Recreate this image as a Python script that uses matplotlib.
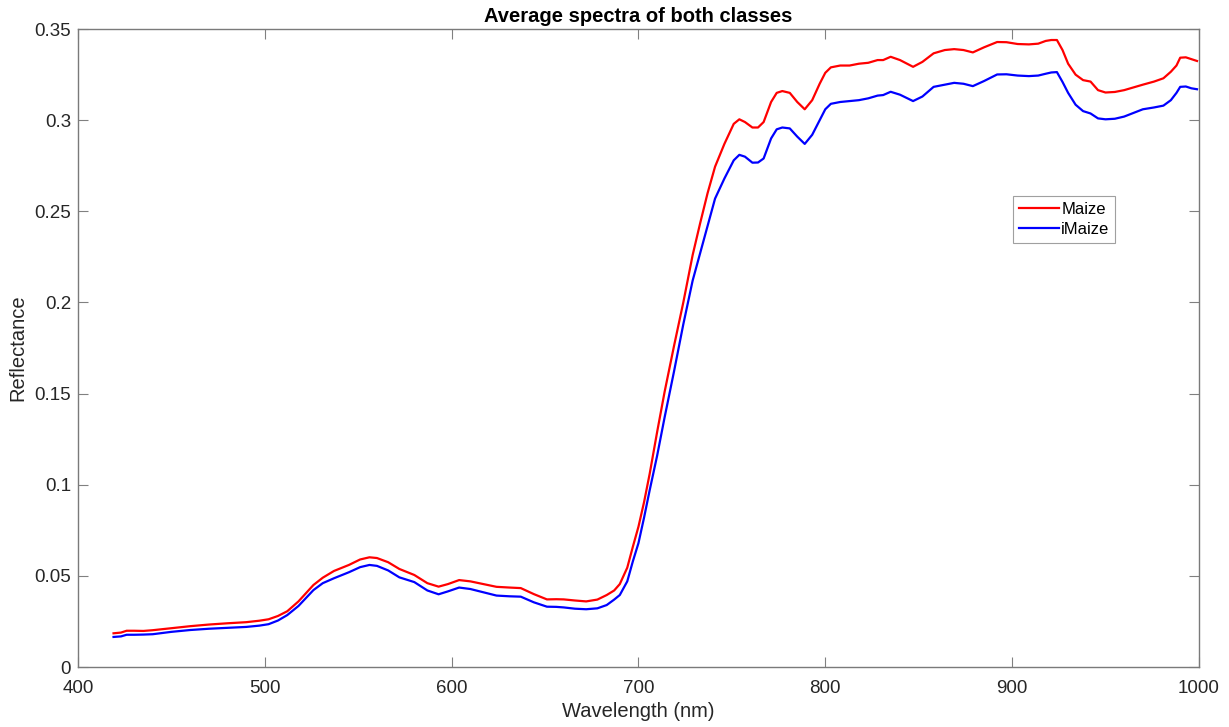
import matplotlib
matplotlib.use('Agg')
import matplotlib.pyplot as plt
from matplotlib.ticker import FuncFormatter

plt.rcParams['font.family'] = ['Liberation Sans', 'DejaVu Sans']

wavelength = [419, 423, 426, 430, 435, 440, 450, 460, 470, 480, 490, 497, 502, 507, 512,
              518, 526, 531, 537, 545, 551, 556, 560, 566, 572, 580, 587, 593, 598, 604,
              610, 617, 624, 631, 637, 644, 651, 656, 660, 666, 672, 678, 683, 687, 690,
              694, 697, 700, 703, 706, 710, 714, 719, 724, 729, 733, 737, 741, 746, 751,
              754, 757, 761, 764, 767, 771, 774, 777, 781, 785, 789, 793, 797, 800, 803,
              808, 813, 818, 823, 828, 831, 835, 840, 847, 852, 858, 864, 869, 874, 879,
              885, 892, 897, 903, 909, 914, 918, 921, 924, 927, 930, 934, 938, 942, 946,
              950, 955, 960, 965, 970, 976, 981, 985, 988, 990, 993, 996, 999]

maize = [0.0185, 0.0189, 0.0199, 0.0199, 0.0198, 0.0202, 0.0213, 0.0224, 0.0233, 0.0240,
         0.0246, 0.0254, 0.0262, 0.0280, 0.0306, 0.0360, 0.0450, 0.0490, 0.0527, 0.0560,
         0.0590, 0.0602, 0.0598, 0.0575, 0.0538, 0.0505, 0.0460, 0.0441, 0.0455, 0.0477,
         0.0470, 0.0455, 0.0440, 0.0436, 0.0433, 0.0400, 0.0371, 0.0372, 0.0371, 0.0365,
         0.0360, 0.0370, 0.0395, 0.0420, 0.0455, 0.0545, 0.0660, 0.0770, 0.0905, 0.1060,
         0.1290, 0.1510, 0.1760, 0.2000, 0.2260, 0.2434, 0.2600, 0.2745, 0.2870, 0.2980,
         0.3005, 0.2990, 0.2960, 0.2960, 0.2990, 0.3100, 0.3150, 0.3160, 0.3150, 0.3100,
         0.3060, 0.3110, 0.3200, 0.3260, 0.3290, 0.3300, 0.3300, 0.3310, 0.3315, 0.3330,
         0.3330, 0.3348, 0.3330, 0.3293, 0.3320, 0.3367, 0.3385, 0.3390, 0.3385, 0.3372,
         0.3400, 0.3429, 0.3428, 0.3418, 0.3416, 0.3420, 0.3435, 0.3440, 0.3440, 0.3385,
         0.3310, 0.3250, 0.3220, 0.3212, 0.3165, 0.3152, 0.3155, 0.3165, 0.3180, 0.3195,
         0.3212, 0.3230, 0.3266, 0.3300, 0.3343, 0.3345, 0.3335, 0.3325]

imaize = [0.0165, 0.0168, 0.0177, 0.0177, 0.0178, 0.0180, 0.0193, 0.0203, 0.0210, 0.0215,
          0.0220, 0.0227, 0.0235, 0.0255, 0.0285, 0.0335, 0.0422, 0.0460, 0.0487, 0.0520,
          0.0548, 0.0560, 0.0555, 0.0530, 0.0492, 0.0466, 0.0420, 0.0399, 0.0415, 0.0436,
          0.0428, 0.0410, 0.0392, 0.0388, 0.0386, 0.0355, 0.0331, 0.0330, 0.0327, 0.0320,
          0.0317, 0.0322, 0.0340, 0.0370, 0.0395, 0.0470, 0.0580, 0.0680, 0.0820, 0.0970,
          0.1160, 0.1370, 0.1620, 0.1880, 0.2120, 0.2270, 0.2420, 0.2570, 0.2680, 0.2780,
          0.2810, 0.2800, 0.2767, 0.2768, 0.2790, 0.2900, 0.2950, 0.2960, 0.2955, 0.2910,
          0.2870, 0.2920, 0.3000, 0.3060, 0.3090, 0.3100, 0.3105, 0.3110, 0.3120, 0.3135,
          0.3138, 0.3156, 0.3140, 0.3105, 0.3130, 0.3183, 0.3195, 0.3205, 0.3200, 0.3187,
          0.3215, 0.3251, 0.3252, 0.3245, 0.3242, 0.3245, 0.3255, 0.3262, 0.3264, 0.3210,
          0.3150, 0.3085, 0.3050, 0.3037, 0.3010, 0.3005, 0.3008, 0.3020, 0.3040, 0.3060,
          0.3070, 0.3080, 0.3110, 0.3150, 0.3183, 0.3185, 0.3175, 0.3170]

fig = plt.figure(figsize=(12.29, 7.27), dpi=100)
ax = fig.add_axes([0.0635, 0.0825, 0.912, 0.8775])

ax.plot(wavelength, maize, color='#ff0000', lw=1.6, label='Maize')
ax.plot(wavelength, imaize, color='#0000ff', lw=1.6, label='iMaize')

ax.set_xlim(400, 1000)
ax.set_ylim(0, 0.35)
ax.set_xticks(range(400, 1001, 100))
ax.set_yticks([0, 0.05, 0.1, 0.15, 0.2, 0.25, 0.3, 0.35])
ax.yaxis.set_major_formatter(FuncFormatter(lambda v, p: '%g' % round(v, 2)))

ax.tick_params(direction='in', length=7, width=0.8, color='#808080',
               labelsize=13.5, labelcolor='#262626', top=True, right=True)
ax.tick_params(axis='x', pad=9)
ax.tick_params(axis='y', pad=5)
for s in ax.spines.values():
    s.set_color('#7a7a7a')
    s.set_linewidth(1.0)

ax.set_xlabel('Wavelength (nm)', fontsize=14.5, color='#262626', labelpad=4)
ax.set_ylabel('Reflectance', fontsize=14.5, color='#262626', labelpad=5)
ax.set_title('Average spectra of both classes', fontsize=14.5, fontweight='bold', pad=5)

leg = ax.legend(loc='upper left', bbox_to_anchor=(0.834, 0.738), fancybox=False,
                fontsize=12, handlelength=2.4, borderpad=0.35, labelspacing=0.3,
                handletextpad=0.15, borderaxespad=0, framealpha=1)
leg.get_frame().set_edgecolor('#a0a0a0')
leg.get_frame().set_linewidth(0.8)

fig.savefig('out.png', dpi=100)
